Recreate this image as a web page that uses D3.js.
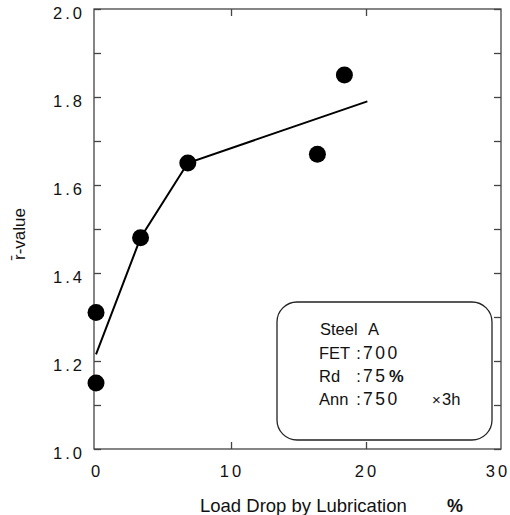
<!DOCTYPE html>
<html>
<head>
<meta charset="utf-8">
<script src="https://cdn.jsdelivr.net/npm/d3@7"></script>
<style>
  html, body { margin: 0; padding: 0; background: #fff; }
  svg { display: block; }
  text { font-family: "Liberation Sans", Arial, sans-serif; fill: #111; }
</style>
</head>
<body>
<svg id="chart" width="510" height="515"></svg>
<script>
// ---- data ----
const xTickValues = [0, 10, 20, 30];
const xTickLabels = ["0", "10", "20", "30"];
const yTickValues = [1.0, 1.2, 1.4, 1.6, 1.8, 2.0];
const yTickLabels = ["1.0", "1.2", "1.4", "1.6", "1.8", "2.0"];
const yMinorValues = [1.1, 1.3, 1.5, 1.7, 1.9];

const pointX = [0, 0, 3.3, 6.8, 16.4, 18.4];
const pointY = [1.31, 1.15, 1.48, 1.65, 1.67, 1.85];

const lineX = [0, 3.3, 6.8, 20.1];
const lineY = [1.215, 1.48, 1.65, 1.79];

const xTitle = "Load Drop by Lubrication";
const xUnit = "%";
const yTitle = "r\u0304-value";

const legendLabels = ["FET", "Rd", "Ann"];
const legendValues = ["700", "75", "750"];
const legendHeader = ["Steel", "A"];

// ---- layout ----
const svg = d3.select("#chart");
const X0 = 94, X1 = 501, Y0 = 449, Y1 = 9;

const x = d3.scaleLinear().domain([-0.15, 30]).range([X0, X1]);
const y = d3.scaleLinear().domain([1.0, 2.0]).range([Y0, Y1]);

const frameColor = "#444";
const tickLen = 7;

// frame
svg.append("rect")
  .attr("x", X0).attr("y", Y1)
  .attr("width", X1 - X0).attr("height", Y0 - Y1)
  .attr("fill", "none").attr("stroke", frameColor).attr("stroke-width", 1.3);

// axes via d3 axis generators (ticks inward)
const allY = yTickValues.concat(yMinorValues);
const leftAxis = d3.axisRight(y).tickValues(allY).tickSize(tickLen).tickFormat("");
const rightAxis = d3.axisLeft(y).tickValues(allY).tickSize(tickLen).tickFormat("");
const bottomAxis = d3.axisTop(x).tickValues([10, 20]).tickSize(tickLen).tickFormat("");
const topAxis = d3.axisBottom(x).tickValues([10, 20]).tickSize(tickLen).tickFormat("");

function styleAxis(g) {
  g.select(".domain").remove();
  g.selectAll("line").attr("stroke", frameColor).attr("stroke-width", 1.3);
}
svg.append("g").attr("transform", `translate(${X0},0)`).call(leftAxis).call(styleAxis);
svg.append("g").attr("transform", `translate(${X1},0)`).call(rightAxis).call(styleAxis);
svg.append("g").attr("transform", `translate(0,${Y0})`).call(bottomAxis).call(styleAxis);
svg.append("g").attr("transform", `translate(0,${Y1})`).call(topAxis).call(styleAxis);

// tick labels
const ls = 3;
svg.append("g").selectAll("text").data(yTickValues).join("text")
  .attr("x", X0 - 12 + ls)
  .attr("y", d => y(d) + 10)
  .attr("text-anchor", "end")
  .attr("font-size", 16.5)
  .attr("letter-spacing", ls)
  .text((d, i) => yTickLabels[i]);

svg.append("g").selectAll("text").data(xTickValues).join("text")
  .attr("x", d => Math.min(x(d), 497) + 1)
  .attr("y", 477)
  .attr("text-anchor", "middle")
  .attr("font-size", 16.5)
  .attr("letter-spacing", ls)
  .text((d, i) => xTickLabels[i]);

// axis titles
svg.append("text")
  .attr("x", 200).attr("y", 512)
  .attr("font-size", 18.5)
  .text(xTitle);
svg.append("text")
  .attr("x", 455).attr("y", 512)
  .attr("text-anchor", "middle")
  .attr("font-size", 18)
  .attr("font-weight", "bold")
  .text(xUnit);

svg.append("text")
  .attr("transform", `translate(25,234) rotate(-90)`)
  .attr("text-anchor", "middle")
  .attr("font-size", 17)
  .attr("fill", "#222")
  .text(yTitle);

// fitted line
const lineData = lineX.map((v, i) => [v, lineY[i]]);
svg.append("path")
  .datum(lineData)
  .attr("fill", "none")
  .attr("stroke", "#000")
  .attr("stroke-width", 2)
  .attr("d", d3.line().x(d => x(d[0])).y(d => y(d[1])));

// points
svg.append("g").selectAll("circle").data(pointX).join("circle")
  .attr("cx", d => x(d))
  .attr("cy", (d, i) => y(pointY[i]))
  .attr("r", 8.5)
  .attr("fill", "#000");

// legend box
svg.append("rect")
  .attr("x", 277).attr("y", 302)
  .attr("width", 215).attr("height", 138)
  .attr("rx", 20).attr("ry", 20)
  .attr("fill", "#fff")
  .attr("stroke", "#222").attr("stroke-width", 1.3);

const lg = svg.append("g").attr("font-size", 16.5);
lg.append("text").attr("x", 320).attr("y", 335).text(legendHeader[0]);
lg.append("text").attr("x", 368).attr("y", 335).text(legendHeader[1]);

const rowsY = [359, 382, 405];
legendLabels.forEach((lab, i) => {
  lg.append("text").attr("x", 319).attr("y", rowsY[i]).text(lab);
  lg.append("text").attr("x", 358.5).attr("y", rowsY[i]).attr("text-anchor", "middle").text(":");
  lg.append("text").attr("x", 363).attr("y", rowsY[i])
    .attr("font-size", 17.5).attr("letter-spacing", 2.5).text(legendValues[i]);
});
lg.append("text").attr("x", 389).attr("y", rowsY[1]).attr("font-weight", "bold").text("%");
lg.append("text").attr("x", 432).attr("y", rowsY[2]).attr("font-size", 15).text("\u00d7");
lg.append("text").attr("x", 442).attr("y", rowsY[2]).text("3h");
</script>
</body>
</html>
